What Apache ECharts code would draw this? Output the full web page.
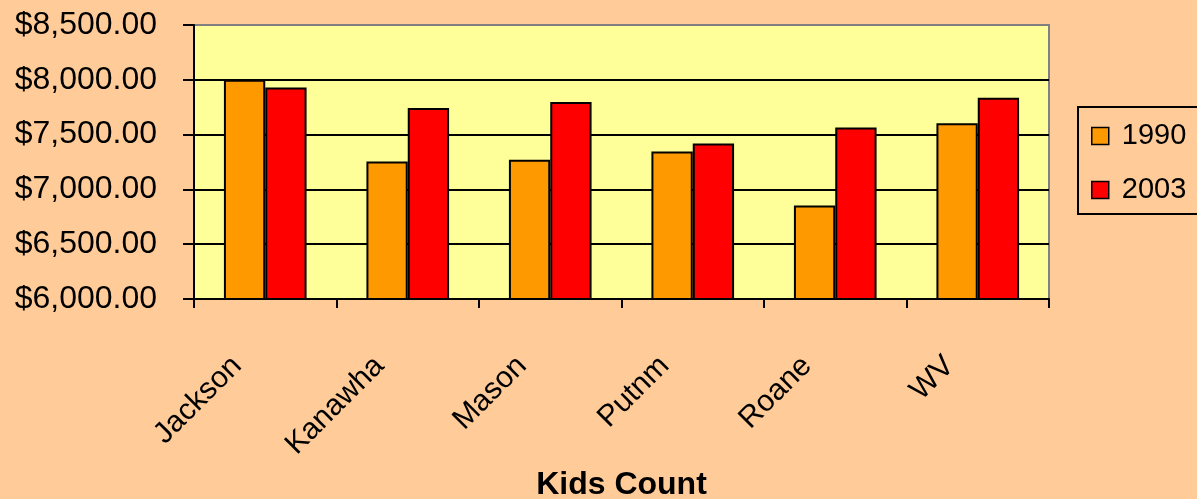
<!DOCTYPE html>
<html>
<head>
<meta charset="utf-8">
<script src="https://cdn.jsdelivr.net/npm/echarts@6/dist/echarts.min.js"></script>
<style>
html,body{margin:0;padding:0;background:#FFCC99;}
#chart{width:1197px;height:499px;}
</style>
</head>
<body>
<div id="chart"></div>
<script>
const categories = ['Jackson', 'Kanawha', 'Mason', 'Putnm', 'Roane', 'WV'];
const values1990 = [8000, 7255, 7270, 7345, 6852, 7603];
const values2003 = [7930, 7743, 7797, 7418, 7564, 7836];
const seriesNames = ['1990', '2003'];
const yTicks = { min: 6000, max: 8500, interval: 500 };
const xTitle = 'Kids Count';

const FONT = 'Liberation Sans, Arial, sans-serif';
const chart = echarts.init(document.getElementById('chart'), null, {renderer: 'canvas'});
chart.setOption({
  backgroundColor: '#FFCC99',
  animation: false,
  grid: {
    left: 194, right: 148, top: 25, bottom: 200,
    show: true, backgroundColor: '#FFFF99',
    borderColor: '#808080', borderWidth: 2
  },
  legend: {
    orient: 'vertical',
    left: 1078, top: 107,
    padding: [14, 14, 9, 13],
    itemWidth: 17, itemHeight: 17, itemGap: 24,
    borderColor: '#000', borderWidth: 2,
    icon: 'rect',
    itemStyle: { borderColor: '#000', borderWidth: 1.5 },
    textStyle: { fontFamily: FONT, fontSize: 29, color: '#000', lineHeight: 30, padding: [0, 0, 0, 8] },
    data: seriesNames
  },
  xAxis: {
    type: 'category',
    data: categories,
    axisLine: { lineStyle: { color: '#000', width: 2 } },
    axisTick: { show: true, length: 9, alignWithLabel: false, interval: 0, lineStyle: { color: '#000', width: 2 } },
    axisLabel: {
      interval: 0, rotate: 45, margin: 34, padding: [0, 40, 0, 0],
      fontFamily: FONT, fontSize: 30, color: '#000'
    },
    splitLine: { show: false }
  },
  yAxis: {
    type: 'value',
    min: yTicks.min, max: yTicks.max, interval: yTicks.interval,
    axisLine: { show: true, lineStyle: { color: '#000', width: 2 } },
    axisTick: { show: true, length: 11, lineStyle: { color: '#000', width: 2 } },
    axisLabel: {
      margin: 37, fontFamily: FONT, fontSize: 32, color: '#000',
      formatter: v => '$' + v.toLocaleString('en-US', { minimumFractionDigits: 2, maximumFractionDigits: 2 })
    },
    splitLine: { show: true, lineStyle: { color: ['#000', '#000', '#000', '#000', '#000', '#808080'], width: 2 } }
  },
  graphic: [{
    type: 'text', x: 621.5, y: 485,
    style: { text: xTitle, font: 'bold 32px ' + FONT, fill: '#000', align: 'center', verticalAlign: 'middle' }
  }],
  series: [
    {
      name: seriesNames[0], type: 'bar', data: values1990,
      barGap: '0%', barCategoryGap: '42%',
      itemStyle: { color: '#FF9900', borderColor: '#000', borderWidth: 2 }
    },
    {
      name: seriesNames[1], type: 'bar', data: values2003,
      barGap: '0%', barCategoryGap: '42%',
      itemStyle: { color: '#FF0000', borderColor: '#000', borderWidth: 2 }
    }
  ]
});
</script>
</body>
</html>
